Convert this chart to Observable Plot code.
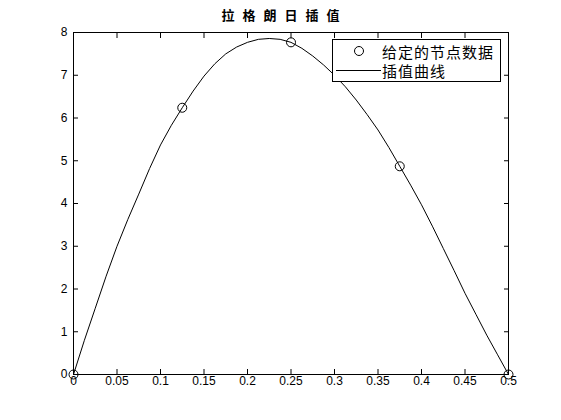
<!DOCTYPE html>
<html><head><meta charset="utf-8">
<script src="https://cdn.jsdelivr.net/npm/d3@7"></script>
<script src="https://cdn.jsdelivr.net/npm/@observablehq/plot@0.6"></script>
<style>
body{margin:0;background:#fff;}
#wrap{position:relative;width:561px;height:420px;background:#fff;}
#title{position:absolute;left:0;top:5px;width:561px;text-align:center;font:bold 13px "Noto Sans CJK SC",sans-serif;color:#000;}
#title span{letter-spacing:8px;margin-right:-8px;}
#legend{position:absolute;left:0;top:0;pointer-events:none;}
</style>
</head><body>
<div id="wrap"><div id="title"><span>拉格朗日插值</span></div></div>
<script>
const title = "拉格朗日插值";
const legendLabels = ["给定的节点数据", "插值曲线"];
const nodeX = [0, 0.125, 0.25, 0.375, 0.5];
const nodeY = [0, 6.24, 7.77, 4.87, 0];
const curveX = [0, 0.0125, 0.025, 0.0375, 0.05, 0.0625, 0.075, 0.0875, 0.1, 0.1125, 0.125, 0.1375, 0.15, 0.1625, 0.175, 0.1875, 0.2, 0.2125, 0.225, 0.2375, 0.25, 0.2625, 0.275, 0.2875, 0.3, 0.3125, 0.325, 0.3375, 0.35, 0.3625, 0.375, 0.3875, 0.4, 0.4125, 0.425, 0.4375, 0.45, 0.4625, 0.475, 0.4875, 0.5];
const curveY = [0, 0.8, 1.55, 2.3, 3.0, 3.63, 4.22, 4.82, 5.37, 5.83, 6.24, 6.63, 6.98, 7.27, 7.5, 7.66, 7.77, 7.84, 7.86, 7.84, 7.77, 7.63, 7.45, 7.24, 7.0, 6.73, 6.42, 6.08, 5.72, 5.31, 4.87, 4.43, 3.97, 3.47, 2.95, 2.43, 1.9, 1.41, 0.92, 0.46, 0];
const xTicks = [0, 0.05, 0.1, 0.15, 0.2, 0.25, 0.3, 0.35, 0.4, 0.45, 0.5];
const yTicks = [0, 1, 2, 3, 4, 5, 6, 7, 8];

const nodes = nodeX.map((x, i) => ({x, y: nodeY[i]}));
const curve = curveX.map((x, i) => ({x, y: curveY[i]}));

const chart = Plot.plot({
  width: 561, height: 420,
  marginLeft: 73, marginRight: 53, marginTop: 32, marginBottom: 46,
  x: {domain: [0, 0.5]},
  y: {domain: [0, 8]},
  style: {fontFamily: "'Liberation Sans', Arial, sans-serif", fontSize: "12px", color: "#000", background: "#fff", overflow: "visible"},
  marks: [
    Plot.frame({stroke: "#000"}),
    Plot.axisX(xTicks, {anchor: "bottom", tickSize: -5, tickPadding: 7, tickFormat: d => String(d), label: null}),
    Plot.axisX(xTicks, {anchor: "top", tickSize: -5, tickFormat: () => "", label: null}),
    Plot.axisY(yTicks, {anchor: "left", tickSize: -5, tickPadding: 11, tickFormat: d => String(d), label: null}),
    Plot.axisY(yTicks, {anchor: "right", tickSize: -5, tickFormat: () => "", label: null}),
    Plot.line(curve, {x: "x", y: "y", stroke: "#000", strokeWidth: 1}),
    Plot.dot(nodes, {x: "x", y: "y", r: 4.5, stroke: "#000", strokeWidth: 1, fill: "none"})
  ]
});
const wrap = document.getElementById("wrap");
wrap.insertBefore(chart, wrap.firstChild);

// legend overlay
const lg = d3.select(wrap).append("svg").attr("id", "legend").attr("width", 561).attr("height", 420);
lg.append("rect").attr("x", 332.5).attr("y", 39.5).attr("width", 168).attr("height", 42).attr("fill", "#fff").attr("stroke", "#000");
lg.append("circle").attr("cx", 359).attr("cy", 51).attr("r", 4.5).attr("fill", "none").attr("stroke", "#000");
lg.append("line").attr("x1", 336).attr("x2", 381).attr("y1", 70.5).attr("y2", 70.5).attr("stroke", "#000");
lg.selectAll("text.lbl").data(legendLabels).join("text").attr("class", "lbl")
  .attr("x", 382).attr("y", (d, i) => 51 + i * 19.5)
  .attr("dominant-baseline", "central")
  .attr("font-family", "'Noto Sans CJK SC', sans-serif").attr("font-size", 15).attr("letter-spacing", 1)
  .attr("fill", "#000").text(d => d);
</script>
</body></html>
